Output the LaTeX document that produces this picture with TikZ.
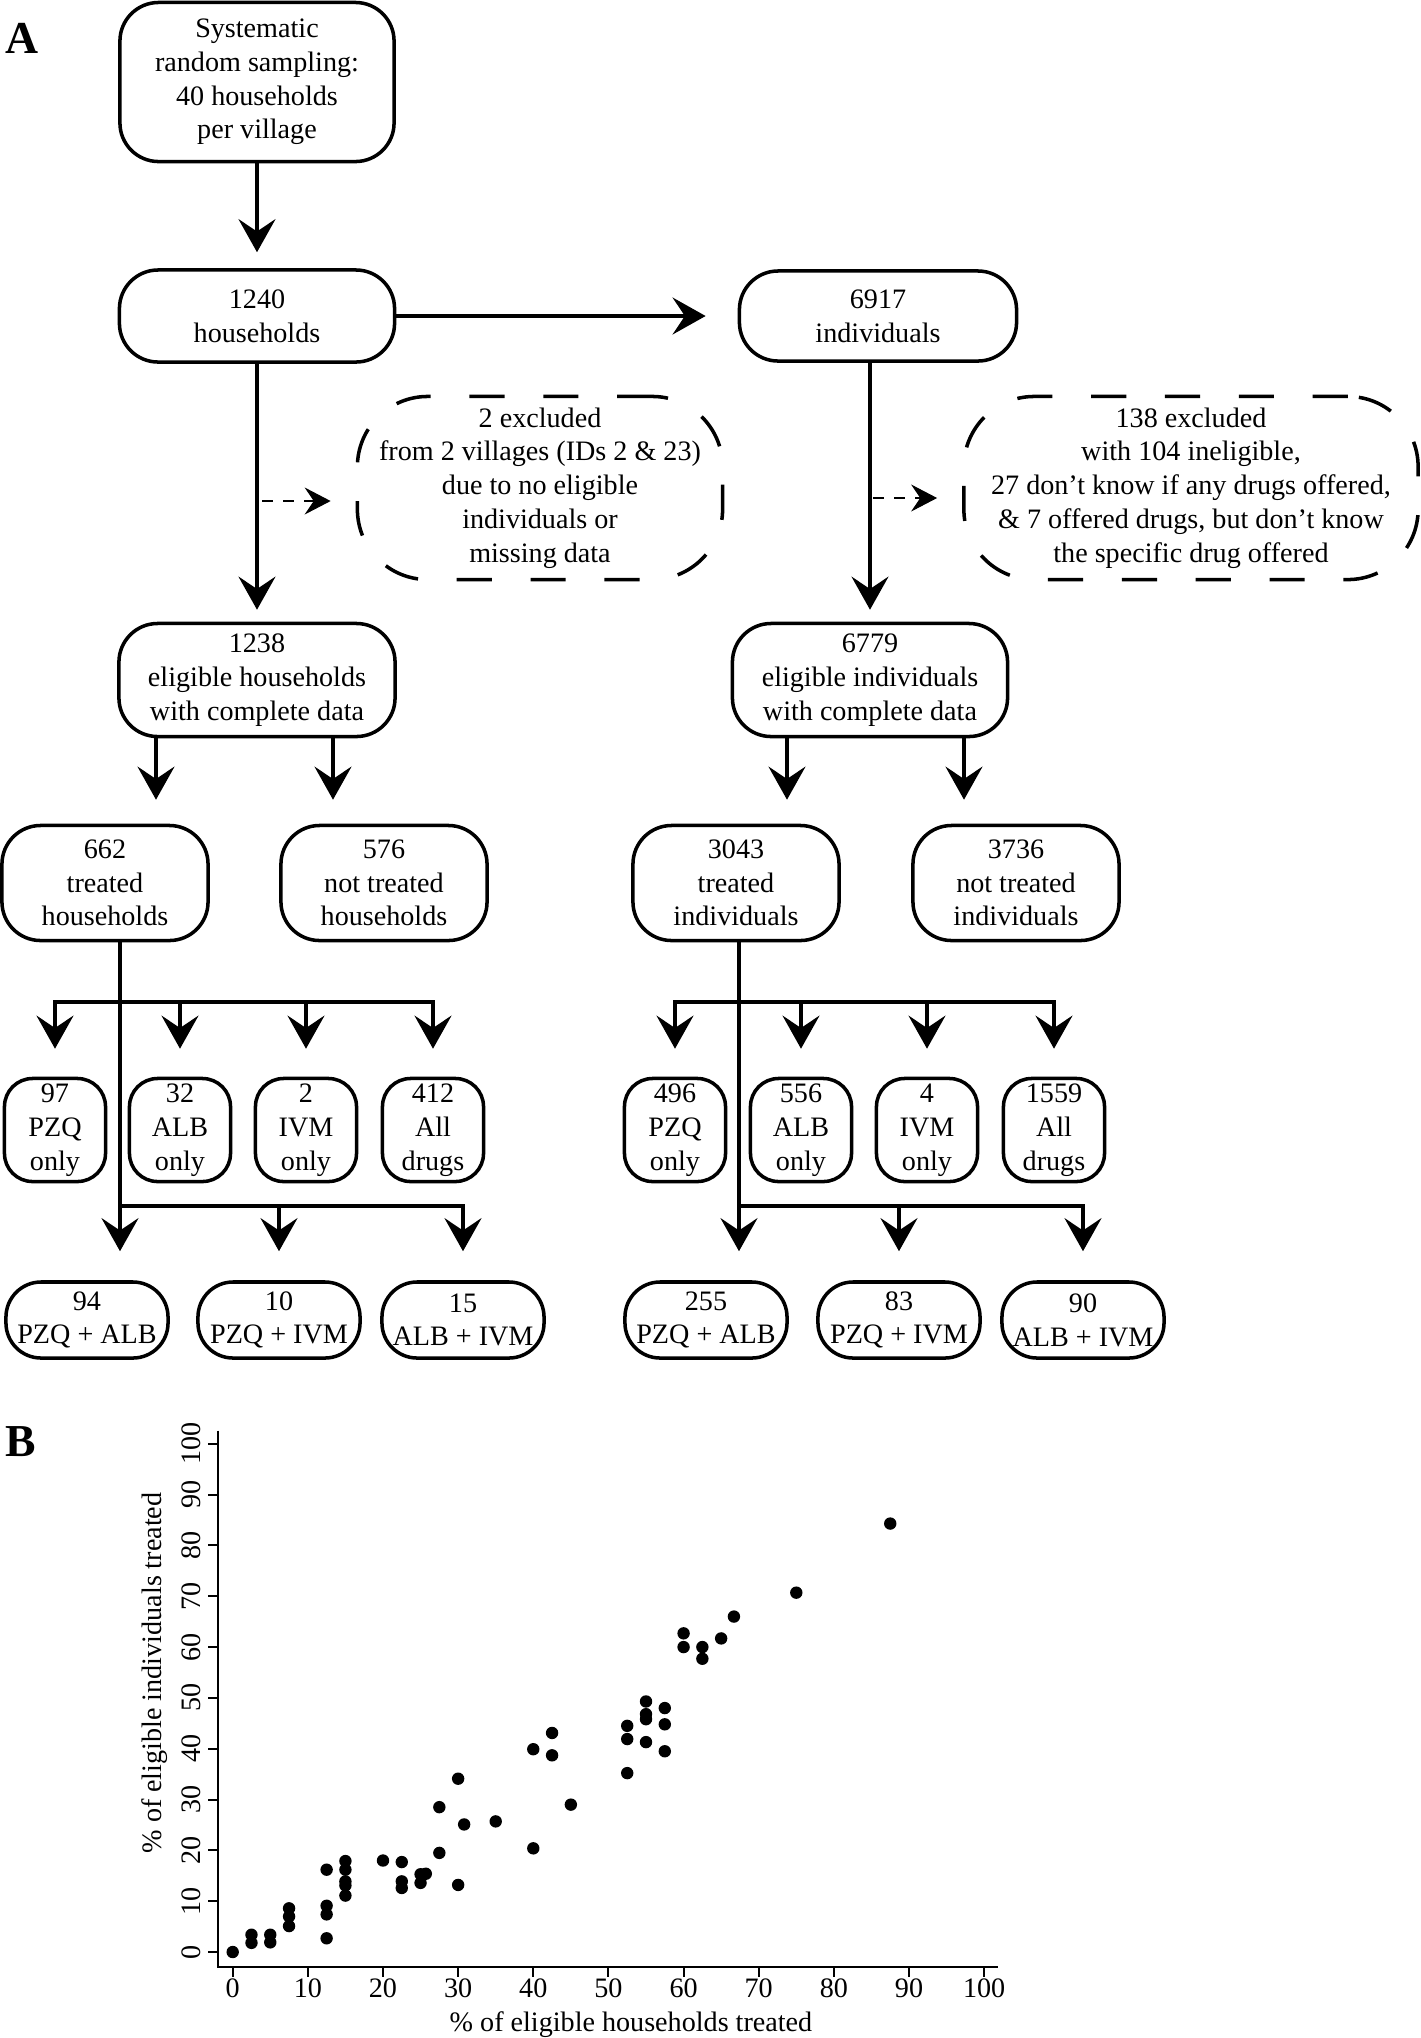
\documentclass[tikz,border=0pt]{standalone}
\usepackage{fontspec}
\setmainfont{Liberation Serif}
\usetikzlibrary{arrows.meta,calc}
\begin{document}
\begin{tikzpicture}[x=0.01cm,y=-0.01cm,font=\fontsize{8}{9.6}\selectfont,
                box/.style={rectangle,draw,line width=1pt,rounded corners=11pt,
                align=center,inner sep=0pt},
                excl/.style={rectangle,draw,line width=1pt,rounded corners=20pt,
                dash pattern=on 10pt off 11pt,align=center,inner sep=0pt},
                drug/.style={box,rounded corners=8pt,minimum width=1.01cm,minimum height=1.03cm},
                combo/.style={box,rounded corners=10pt,minimum width=1.62cm,minimum height=0.76cm},
                arr/.style={line width=1pt,-{Stealth[length=9.4pt,width=10.5pt,inset=3.5pt]}},
                dasharr/.style={line width=0.3pt,dashed,-{Stealth[length=7.4pt,width=7.7pt,inset=2.6pt]}},
                bus/.style={line width=1pt,line cap=rect},
                panel/.style={font=\fontsize{13}{15}\selectfont\bfseries}]
                \useasboundingbox (0,0) rectangle (1421,2038);
                \node (lblA) at (22,38) [panel] {A};
                \node (lblB) at (21,1442) [panel] {B};
                % flow chart
                \node (samp) at (257,82) [box,minimum width=2.74cm,minimum height=1.59cm]
                    {Systematic\\random sampling:\\40 households\\per village};
                \node (hh) at (257,316) [box,minimum width=2.75cm,minimum height=0.92cm] {1240\\households};
                \node (ind) at (878,316) [box,minimum width=2.77cm,minimum height=0.90cm] {6917\\individuals};
                \node (exhh) at (540,488) [excl,minimum width=3.65cm,minimum height=1.83cm]
                    {2 excluded\\from 2 villages (IDs 2 \& 23)\\due to no eligible\\individuals or\\missing data};
                \node (exind) at (1191,488) [excl,minimum width=4.54cm,minimum height=1.83cm]
                    {138 excluded\\with 104 ineligible,\\27 don't know if any drugs offered,\\\& 7 offered drugs, but don't know\\the specific drug offered};
                \node (elhh) at (257,680) [box,minimum width=2.76cm,minimum height=1.13cm]
                    {1238\\eligible households\\with complete data};
                \node (elind) at (870,680) [box,minimum width=2.75cm,minimum height=1.13cm]
                    {6779\\eligible individuals\\with complete data};
                \node (trhh) at (105,883) [box,minimum width=2.06cm,minimum height=1.15cm] {662\\treated\\households};
                \node (nthh) at (384,883) [box,minimum width=2.06cm,minimum height=1.15cm] {576\\not treated\\households};
                \node (trind) at (736,883) [box,minimum width=2.06cm,minimum height=1.15cm] {3043\\treated\\individuals};
                \node (ntind) at (1016,883) [box,minimum width=2.06cm,minimum height=1.15cm] {3736\\not treated\\individuals};
                \node (pzqh) at (55,1130) [drug] {97\\PZQ\\only};
                \node (albh) at (180,1130) [drug] {32\\ALB\\only};
                \node (ivmh) at (306,1130) [drug] {2\\IVM\\only};
                \node (allh) at (433,1130) [drug] {412\\All\\drugs};
                \node (pzqi) at (675,1130) [drug] {496\\PZQ\\only};
                \node (albi) at (801,1130) [drug] {556\\ALB\\only};
                \node (ivmi) at (927,1130) [drug] {4\\IVM\\only};
                \node (alli) at (1054,1130) [drug] {1559\\All\\drugs};
                \node (pahh) at (87,1320) [combo] {94\\PZQ + ALB};
                \node (pihh) at (279,1320) [combo] {10\\PZQ + IVM};
                \node (aihh) at (463,1320) [combo] {15\\ALB + IVM};
                \node (pai) at (706,1320) [combo] {255\\PZQ + ALB};
                \node (pii) at (899,1320) [combo] {83\\PZQ + IVM};
                \node (aii) at (1083,1320) [combo] {90\\ALB + IVM};
                \coordinate (bus1) at (0,1002);
                \coordinate (bus2) at (0,1206);
                \coordinate (tl) at ($(trhh.south)+(15,0)$);
                \coordinate (tr) at ($(trind.south)+(3,0)$);
                \draw[arr,shorten >=0.16cm] (samp) -- (hh);
                \draw[arr,shorten >=0.32cm] (hh) -- (ind);
                \draw[arr,shorten >=0.12cm] (hh) -- (elhh);
                \draw[arr,shorten >=0.12cm] (ind.south -| elind) -- (elind);
                \draw[dasharr] ($(hh.south |- exhh.west)+(5,13)$) -- ($(exhh.west)+(-25,13)$);
                \draw[dasharr] ($(elind.north |- exind.west)+(3,10)$) -- ($(exind.west)+(-25,10)$);
                \draw[arr,shorten >=0.24cm] ($(elhh.south)+(-101,0)$) -- ($(trhh.north)+(51,0)$);
                \draw[arr,shorten >=0.24cm] ($(elhh.south)+(76,0)$) -- ($(nthh.north)+(-51,0)$);
                \draw[arr,shorten >=0.24cm] ($(elind.south)+(-83,0)$) -- ($(trind.north)+(51,0)$);
                \draw[arr,shorten >=0.24cm] ($(elind.south)+(94,0)$) -- ($(ntind.north)+(-52,0)$);
                \draw[arr,shorten >=0.29cm] (tl) -- (tl |- pahh.north);
                \draw[arr,shorten >=0.29cm] (tr) -- (tr |- pai.north);
                \draw[bus] (pzqh |- bus1) -- (allh |- bus1);
                \draw[bus] (pzqi |- bus1) -- (alli |- bus1);
                \draw[bus] (tl |- bus2) -- (aihh |- bus2);
                \draw[bus] (tr |- bus2) -- (aii |- bus2);
                \foreach \n in {pzqh,albh,ivmh,allh,pzqi,albi,ivmi,alli}
                    \draw[arr,shorten >=0.28cm] (\n |- bus1) -- (\n);
                \foreach \n in {pihh,aihh,pii,aii}
                    \draw[arr,shorten >=0.29cm] (\n |- bus2) -- (\n);
                % scatter plot
                \begin{scope}[shift={(232.7,1952)},x=0.0751cm,y=0.0508cm]
                \draw[line width=0.55pt] (-1.96,102.6) -- (-1.96,-2.95) -- (101.8,-2.95);
                \foreach \v in {0,10,...,100} {
                    \draw[line width=0.55pt] (-1.96,\v) -- ++(-0.1cm,0);
                    \draw[line width=0.55pt] (\v,-2.95) -- ++(0,-0.1cm);
                    \node (yt\v) at (-4.35,\v) [rotate=90,anchor=base] {\v};
                    \node (xt\v) at (\v,-8.86) [anchor=base] {\v};
                }
                \node (xlab) at (53,-15.55) [anchor=base] {\% of eligible households treated};
                \node (ylab) at (-9.5,54.9) [rotate=90,anchor=base] {\% of eligible individuals treated};
                \foreach \p in {(0,0),(2.5,3.4),(2.5,1.8),(5,3.4),(5,1.9),(7.5,8.6),(7.5,7.0),(7.5,5.1),
                    (12.5,16.2),(12.5,9.1),(12.5,7.4),(12.5,2.7),(15,17.9),(15,16.2),(15,13.9),(15,13.1),(15,11.1),
                    (20,18.0),(22.5,17.7),(22.5,13.9),(22.5,12.6),(25,15.3),(25,13.6),(25.7,15.4),
                    (27.5,28.5),(27.5,19.5),(30,34.1),(30,13.2),(30.8,25.1),(35,25.7),(40,39.9),(40,20.4),
                    (42.5,43.1),(42.5,38.7),(45,29.0),(52.5,44.5),(52.5,41.9),(52.5,35.2),
                    (55,49.3),(55,46.8),(55,45.8),(55,41.3),(57.5,48.0),(57.5,44.8),(57.5,39.5),
                    (60,62.7),(60,60.0),(62.5,60.0),(62.5,57.7),(65,61.7),(66.7,66.0),(75,70.7),(87.5,84.3)}
                    \fill \p circle[radius=0.062cm];
                \end{scope}
            \end{tikzpicture}
\end{document}
